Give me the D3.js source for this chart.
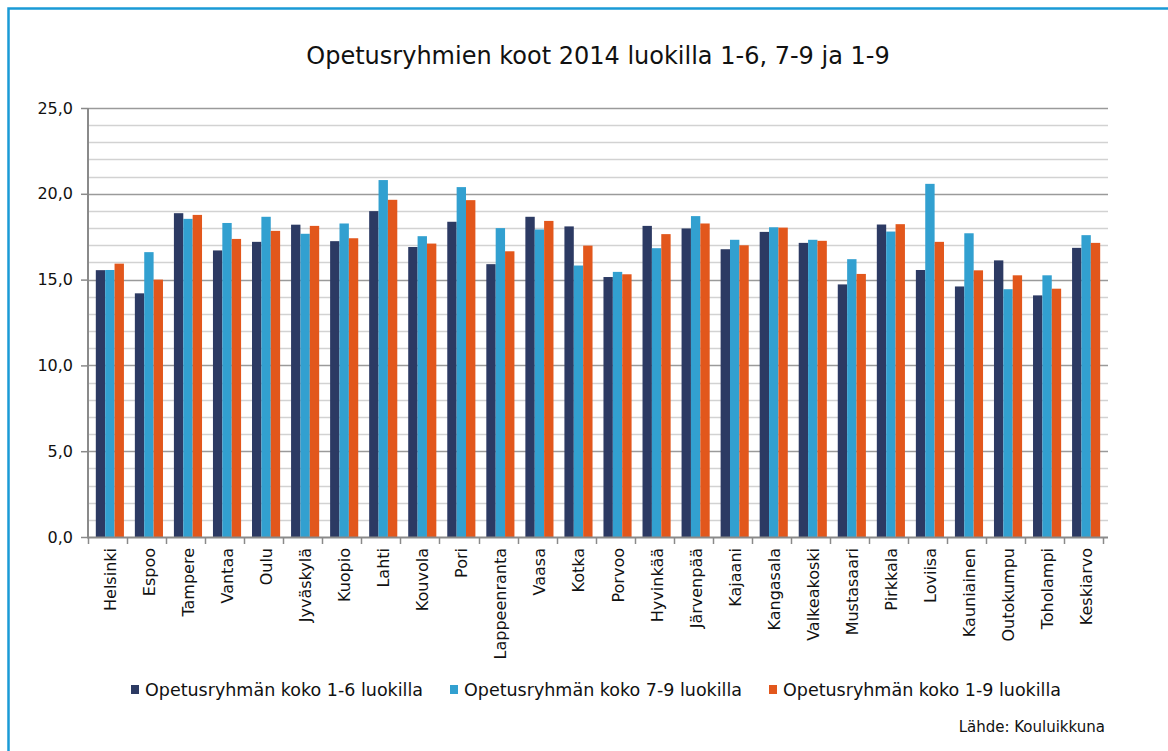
<!DOCTYPE html>
<html>
<head>
<meta charset="utf-8">
<script src="https://cdn.jsdelivr.net/npm/d3@7"></script>
<style>
  body { margin: 0; background: #fff; }
  svg { font-family: "DejaVu Sans", Verdana, sans-serif; }
</style>
</head>
<body>
<svg id="chart" width="1168" height="751"></svg>
<script>
var width = 1168;
var height = 751;

// data
var kunnat = ["Helsinki", "Espoo", "Tampere", "Vantaa", "Oulu", "Jyväskylä", "Kuopio", "Lahti",
  "Kouvola", "Pori", "Lappeenranta", "Vaasa", "Kotka", "Porvoo", "Hyvinkää", "Järvenpää",
  "Kajaani", "Kangasala", "Valkeakoski", "Mustasaari", "Pirkkala", "Loviisa", "Kauniainen",
  "Outokumpu", "Toholampi", "Keskiarvo"];
var luokat16 = [15.55, 14.2, 18.87, 16.7, 17.2, 18.2, 17.24, 18.99, 16.9, 18.37, 15.9, 18.66, 18.1,
  15.15, 18.13, 17.98, 16.77, 17.78, 17.14, 14.72, 18.21, 15.56, 14.6, 16.12, 14.08, 16.85];
var luokat79 = [15.56, 16.6, 18.54, 18.3, 18.66, 17.67, 18.27, 20.8, 17.53, 20.39, 18.0, 17.92, 15.82,
  15.45, 16.83, 18.7, 17.32, 18.05, 17.32, 16.19, 17.8, 20.58, 17.7, 14.44, 15.25, 17.59];
var luokat19 = [15.93, 15.0, 18.77, 17.37, 17.84, 18.13, 17.41, 19.65, 17.1, 19.63, 16.65, 18.42, 16.98,
  15.31, 17.65, 18.27, 17.0, 18.03, 17.26, 15.33, 18.23, 17.2, 15.54, 15.25, 14.47, 17.14];
var sarjat = ["Opetusryhmän koko 1-6 luokilla", "Opetusryhmän koko 7-9 luokilla", "Opetusryhmän koko 1-9 luokilla"];
var yTicks = [0, 5, 10, 15, 20, 25];

var colors = ["#2c3a63", "#32a0d0", "#e2571c"];
var values = [luokat16, luokat79, luokat19];

var svg = d3.select("#chart");

// blue frame (cropped on right and bottom)
svg.append("rect")
  .attr("x", 8.5).attr("y", 8.5)
  .attr("width", width + 20).attr("height", height + 20)
  .attr("fill", "none")
  .attr("stroke", "#1a9ad6")
  .attr("stroke-width", 2.5);

// title
svg.append("text")
  .attr("x", 598)
  .attr("y", 64)
  .attr("text-anchor", "middle")
  .attr("font-size", "24px")
  .attr("fill", "#111")
  .text("Opetusryhmien koot 2014 luokilla 1-6, 7-9 ja 1-9");

var plotLeft = 88, plotRight = 1108, plotTop = 108, plotBottom = 537;

var xScale = d3.scaleBand().domain(kunnat).range([plotLeft, plotRight]).paddingInner(0.28).paddingOuter(0.2);
var xSub = d3.scaleBand().domain([0, 1, 2]).range([0, xScale.bandwidth()]);
var yScale = d3.scaleLinear().domain([0, 25]).range([plotBottom, plotTop]);

// gridlines, minor every 1.0, major every 5.0
var grid = svg.append("g");
grid.selectAll("line")
  .data(d3.range(1, 26))
  .enter()
  .append("line")
  .attr("x1", plotLeft).attr("x2", plotRight)
  .attr("y1", function (d) { return Math.round(yScale(d)) + 0.5; })
  .attr("y2", function (d) { return Math.round(yScale(d)) + 0.5; })
  .attr("stroke", function (d) { return d % 5 === 0 ? "#9a9a9a" : "#d2d2d2"; })
  .attr("stroke-width", 1.5);

// bars
var groups = svg.append("g")
  .selectAll("g")
  .data(kunnat)
  .enter()
  .append("g")
  .attr("transform", function (d) { return "translate(" + xScale(d) + ",0)"; });

groups.selectAll("rect")
  .data(function (d, i) { return values.map(function (s, j) { return { s: j, v: s[i] }; }); })
  .enter()
  .append("rect")
  .attr("x", function (d) { return xSub(d.s); })
  .attr("width", xSub.bandwidth())
  .attr("y", function (d) { return yScale(d.v); })
  .attr("height", function (d) { return yScale(0) - yScale(d.v); })
  .attr("fill", function (d) { return colors[d.s]; });

// y axis
var yAxis = d3.axisLeft(yScale)
  .tickValues(yTicks)
  .tickSize(7)
  .tickPadding(8)
  .tickFormat(function (d) { return d3.format(".1f")(d).replace(".", ","); });

var yG = svg.append("g")
  .attr("transform", "translate(" + plotLeft + ",0)")
  .call(yAxis);
yG.select(".domain").attr("stroke", "#8a8a8a").attr("stroke-width", 2)
  .attr("d", "M0," + plotTop + "V" + plotBottom);
yG.selectAll(".tick line").attr("stroke", "#8a8a8a").attr("stroke-width", 1.5);
yG.selectAll(".tick text")
  .attr("font-family", "DejaVu Sans, Verdana, sans-serif")
  .attr("font-size", "16px")
  .attr("fill", "#111");

// x axis
var xAxis = svg.append("g");
xAxis.append("line")
  .attr("x1", plotLeft - 1).attr("x2", plotRight)
  .attr("y1", plotBottom + 0.5).attr("y2", plotBottom + 0.5)
  .attr("stroke", "#8a8a8a").attr("stroke-width", 2);

var step = xScale.step();
xAxis.selectAll(".xt")
  .data(d3.range(0, kunnat.length + 1))
  .enter()
  .append("line")
  .attr("class", "xt")
  .attr("x1", function (d) { return Math.round(plotLeft + d * step) + 0.5; })
  .attr("x2", function (d) { return Math.round(plotLeft + d * step) + 0.5; })
  .attr("y1", plotBottom).attr("y2", plotBottom + 7)
  .attr("stroke", "#8a8a8a").attr("stroke-width", 1.5);

xAxis.selectAll(".xl")
  .data(kunnat)
  .enter()
  .append("text")
  .attr("class", "xl")
  .attr("transform", function (d) {
    return "translate(" + (xScale(d) + xScale.bandwidth() / 2 + 6) + "," + (plotBottom + 11) + ") rotate(-90)";
  })
  .attr("text-anchor", "end")
  .attr("font-size", "16px")
  .attr("fill", "#111")
  .text(function (d) { return d; });

// legend
var legendX = [131, 450, 769];
var legend = svg.append("g");
sarjat.forEach(function (name, i) {
  legend.append("rect")
    .attr("x", legendX[i]).attr("y", 685)
    .attr("width", 8).attr("height", 9)
    .attr("fill", colors[i]);
  legend.append("text")
    .attr("x", legendX[i] + 14)
    .attr("y", 696)
    .attr("font-size", "17.5px")
    .attr("fill", "#111")
    .text(name);
});

// source
svg.append("text")
  .attr("x", 1105)
  .attr("y", 732)
  .attr("text-anchor", "end")
  .attr("font-size", "15px")
  .attr("fill", "#111")
  .text("Lähde: Kouluikkuna");
</script>
</body>
</html>
